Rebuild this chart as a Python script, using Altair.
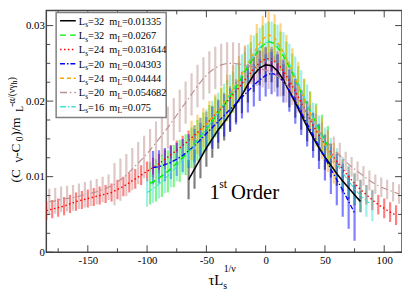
import altair as alt
import pandas as pd

# ---------------- data ----------------
x_ticks_major = [-150, -100, -50, 0, 50, 100]
x_ticks_minor = [-175, -125, -75, -25, 25, 75]
y_ticks_major = [0.0, 0.01, 0.02, 0.03]
y_ticks_minor = [0.0025, 0.005, 0.0075, 0.0125, 0.015, 0.0175, 0.0225, 0.025, 0.0275]

legend_Ls = ["32", "32", "24", "20", "24", "20", "16"]
legend_mL = ["0.01335", "0.0267", "0.031644", "0.04303", "0.04444", "0.054682", "0.075"]

black_x = [-65, -60, -55, -50, -45, -40, -35, -30, -25, -20, -15, -10, -5, 0, 5, 10, 15, 20, 25, 30,
           35, 40, 45, 50, 55, 60, 65, 70, 75, 80]
black_y = [0.0096, 0.0110, 0.0124, 0.0138, 0.0150, 0.0162, 0.0172, 0.0183, 0.0196, 0.0208, 0.0222,
           0.0235, 0.0244, 0.0248, 0.0247, 0.0240, 0.0228, 0.0213, 0.0198, 0.0182, 0.0166, 0.0152,
           0.0138, 0.0126, 0.0115, 0.0104, 0.0094, 0.0085, 0.0076, 0.0067]
black_e = [0.0026, 0.0026, 0.0026, 0.0025, 0.0025, 0.0025, 0.0024, 0.0024, 0.0024, 0.0024, 0.0024,
           0.0023, 0.0023, 0.0023, 0.0022, 0.0022, 0.0021, 0.0021, 0.0020, 0.0020, 0.0019, 0.0018,
           0.0017, 0.0017, 0.0016, 0.0016, 0.0015, 0.0015, 0.0014, 0.0014]

green_x = [-97.5, -92.5, -87.5, -82.5, -77.5, -72.5, -67.5, -62.5, -57.5, -52.5, -47.5, -42.5, -37.5,
           -32.5, -27.5, -22.5, -17.5, -12.5, -7.5, -2.5, 2.5, 7.5, 12.5, 17.5, 22.5, 27.5, 32.5, 37.5,
           42.5, 47.5, 52.5]
green_y = [0.0091, 0.0095, 0.0101, 0.0107, 0.0114, 0.0121, 0.0129, 0.0138, 0.0148, 0.0158, 0.0168,
           0.0179, 0.0190, 0.0201, 0.0212, 0.0225, 0.0239, 0.0252, 0.0264, 0.0274, 0.0279, 0.0276,
           0.0266, 0.0253, 0.0237, 0.0220, 0.0203, 0.0187, 0.0171, 0.0156, 0.0141]
green_e = [0.0028, 0.0028, 0.0028, 0.0028, 0.0028, 0.0028, 0.0027, 0.0027, 0.0027, 0.0027, 0.0027,
           0.0027, 0.0027, 0.0027, 0.0027, 0.0027, 0.0026, 0.0026, 0.0026, 0.0026, 0.0026, 0.0026,
           0.0026, 0.0026, 0.0026, 0.0026, 0.0026, 0.0026, 0.0026, 0.0026, 0.0026]

red_x = [-185, -180, -175, -170, -165, -160, -155, -150, -145, -140, -135, -130, -125, -120, -115,
         -110, -105, -100, -95, -90, -85, -80, -75, -70, -65, -60, -55, -50, -45, -40, -35, -30, -25,
         -20, -15, -10, -5, 0, 5, 10, 15, 20, 25, 30, 35, 40, 45, 50, 55, 60, 65, 70, 75, 80, 85, 90,
         95, 100, 105, 110]
red_y = [0.0055, 0.0057, 0.0059, 0.0061, 0.0064, 0.0067, 0.0069, 0.0071, 0.0073, 0.0075, 0.0077,
         0.0079, 0.0083, 0.0087, 0.0092, 0.0097, 0.0102, 0.0107, 0.0112, 0.0117, 0.0123, 0.0129,
         0.0135, 0.0141, 0.0148, 0.0155, 0.0162, 0.0170, 0.0178, 0.0186, 0.0195, 0.0204, 0.0213,
         0.0223, 0.0233, 0.0243, 0.0251, 0.0256, 0.0256, 0.0250, 0.0240, 0.0227, 0.0213, 0.0198,
         0.0183, 0.0168, 0.0155, 0.0143, 0.0131, 0.0120, 0.0110, 0.0100, 0.0091, 0.0083, 0.0076,
         0.0069, 0.0063, 0.0058, 0.0053, 0.0049]
red_e = [0.0012, 0.0012, 0.0012, 0.0012, 0.0012, 0.0012, 0.0012, 0.0012, 0.0012, 0.0012, 0.0012,
         0.0012, 0.0013, 0.0013, 0.0013, 0.0013, 0.0013, 0.0013, 0.0013, 0.0013, 0.0013, 0.0013,
         0.0013, 0.0013, 0.0013, 0.0013, 0.0016, 0.0016, 0.0016, 0.0016, 0.0016, 0.0016, 0.0016,
         0.0016, 0.0016, 0.0016, 0.0016, 0.0016, 0.0016, 0.0016, 0.0016, 0.0016, 0.0016, 0.0016,
         0.0016, 0.0016, 0.0013, 0.0013, 0.0013, 0.0013, 0.0013, 0.0013, 0.0013, 0.0013, 0.0013,
         0.0013, 0.0013, 0.0013, 0.0013, 0.0013]

blue_x = [-95, -90, -85, -80, -75, -70, -65, -60, -55, -50, -45, -40, -35, -30, -25, -20, -15, -10,
          -5, 0, 5, 10, 15, 20, 25, 30, 35, 40, 45, 50, 55, 60, 65, 70, 75]
blue_y = [0.0112, 0.0113, 0.0116, 0.0119, 0.0123, 0.0128, 0.0134, 0.0141, 0.0149, 0.0157, 0.0165,
          0.0173, 0.0181, 0.0189, 0.0197, 0.0205, 0.0213, 0.0221, 0.0228, 0.0234, 0.0237, 0.0234,
          0.0226, 0.0214, 0.0200, 0.0185, 0.0170, 0.0155, 0.0140, 0.0125, 0.0110, 0.0096, 0.0082,
          0.0067, 0.0052]
blue_e = [0.0022, 0.0022, 0.0022, 0.0022, 0.0022, 0.0022, 0.0022, 0.0022, 0.0022, 0.0022, 0.0028,
          0.0028, 0.0028, 0.0028, 0.0028, 0.0028, 0.0028, 0.0028, 0.0028, 0.0028, 0.0028, 0.0028,
          0.0028, 0.0028, 0.0030, 0.0030, 0.0030, 0.0030, 0.0030, 0.0030, 0.0033, 0.0034, 0.0035,
          0.0036, 0.0037]

orange_x = [-62.5, -57.5, -52.5, -47.5, -42.5, -37.5, -32.5, -27.5, -22.5, -17.5, -12.5, -7.5, -2.5,
            2.5, 7.5, 12.5, 17.5, 22.5, 27.5, 32.5, 37.5, 42.5, 47.5, 52.5, 57.5]
orange_y = [0.0148, 0.0156, 0.0165, 0.0174, 0.0183, 0.0193, 0.0204, 0.0216, 0.0229, 0.0243, 0.0257,
            0.0271, 0.0282, 0.0288, 0.0284, 0.0272, 0.0257, 0.0239, 0.0221, 0.0203, 0.0185, 0.0167,
            0.0150, 0.0133, 0.0118]
orange_e = [0.0026, 0.0026, 0.0026, 0.0026, 0.0026, 0.0026, 0.0031, 0.0031, 0.0031, 0.0031, 0.0031,
            0.0031, 0.0031, 0.0031, 0.0031, 0.0031, 0.0031, 0.0031, 0.0031, 0.0027, 0.0027, 0.0027,
            0.0027, 0.0027, 0.0027]

rosy_x = [-182.5, -177.5, -172.5, -167.5, -162.5, -157.5, -152.5, -147.5, -142.5, -137.5, -132.5,
          -127.5, -122.5, -117.5, -112.5, -107.5, -102.5, -97.5, -92.5, -87.5, -82.5, -77.5, -72.5,
          -67.5, -62.5, -57.5, -52.5, -47.5, -42.5, -37.5, -32.5, -27.5, -22.5, -17.5, -12.5, -7.5,
          -2.5, 2.5, 7.5, 12.5, 17.5, 22.5, 27.5, 32.5, 37.5, 42.5, 47.5, 52.5, 57.5, 62.5, 67.5,
          72.5, 77.5, 82.5, 87.5, 92.5, 97.5, 102.5, 107.5, 112.5]
rosy_y = [0.0067, 0.0068, 0.0070, 0.0071, 0.0072, 0.0074, 0.0076, 0.0078, 0.0080, 0.0083, 0.0086,
          0.0090, 0.0096, 0.0102, 0.0110, 0.0118, 0.0126, 0.0135, 0.0145, 0.0155, 0.0165, 0.0176,
          0.0187, 0.0198, 0.0209, 0.0220, 0.0230, 0.0238, 0.0244, 0.0248, 0.0250, 0.0250, 0.0249,
          0.0248, 0.0246, 0.0244, 0.0242, 0.0240, 0.0236, 0.0230, 0.0222, 0.0212, 0.0202, 0.0190,
          0.0178, 0.0166, 0.0155, 0.0145, 0.0136, 0.0128, 0.0120, 0.0113, 0.0107, 0.0101, 0.0095,
          0.0090, 0.0086, 0.0083, 0.0080, 0.0077]
rosy_e = [0.0017, 0.0017, 0.0017, 0.0017, 0.0017, 0.0017, 0.0017, 0.0017, 0.0017, 0.0017, 0.0017,
          0.0028, 0.0028, 0.0028, 0.0028, 0.0028, 0.0028, 0.0028, 0.0028, 0.0028, 0.0028, 0.0028,
          0.0028, 0.0028, 0.0028, 0.0028, 0.0028, 0.0028, 0.0028, 0.0028, 0.0028, 0.0028, 0.0028,
          0.0024, 0.0024, 0.0024, 0.0024, 0.0024, 0.0024, 0.0024, 0.0024, 0.0017, 0.0017, 0.0017,
          0.0017, 0.0017, 0.0017, 0.0017, 0.0017, 0.0017, 0.0013, 0.0013, 0.0013, 0.0013, 0.0013,
          0.0013, 0.0013, 0.0013, 0.0013, 0.0013]

cyan_x = [-100, -95, -90, -85, -80, -75, -70, -65, -60, -55, -50, -45, -40, -35, -30, -25, -20, -15,
          -10, -5, 0, 5, 10, 15, 20, 25, 30, 35, 40, 45, 50, 55, 60, 65, 70, 75, 80, 85, 90]
cyan_y = [0.0079, 0.0084, 0.0090, 0.0097, 0.0105, 0.0113, 0.0122, 0.0132, 0.0142, 0.0152, 0.0163,
          0.0174, 0.0185, 0.0197, 0.0209, 0.0222, 0.0236, 0.0249, 0.0261, 0.0271, 0.0277, 0.0279,
          0.0275, 0.0265, 0.0250, 0.0233, 0.0215, 0.0196, 0.0177, 0.0160, 0.0144, 0.0130, 0.0117,
          0.0105, 0.0094, 0.0084, 0.0075, 0.0068, 0.0062]
cyan_e = [0.0019, 0.0019, 0.0019, 0.0019, 0.0019, 0.0019, 0.0019, 0.0019, 0.0026, 0.0026, 0.0026,
          0.0026, 0.0026, 0.0026, 0.0026, 0.0026, 0.0026, 0.0026, 0.0026, 0.0026, 0.0026, 0.0026,
          0.0026, 0.0026, 0.0026, 0.0026, 0.0026, 0.0026, 0.0021, 0.0021, 0.0021, 0.0021, 0.0021,
          0.0021, 0.0021, 0.0021, 0.0021, 0.0021, 0.0021]

# ---------------- styles ----------------
names = ["a_black", "b_green", "c_red", "d_blue", "e_orange", "f_rosy", "g_cyan"]
colors = ["#000000", "#00ee00", "#ff0000", "#0000ff", "#ffa500", "#bc8f8f", "#40e0d0"]
dashes = [[1, 0], [6, 4], [1.5, 2.5], [5, 2, 1.5, 2], [4, 3], [7, 3, 1.5, 3], [6, 2, 1.5, 2]]
widths = [1.6, 1.1, 1.3, 1.1, 1.1, 1.1, 1.1]
all_data = [(black_x, black_y, black_e), (green_x, green_y, green_e), (red_x, red_y, red_e),
            (blue_x, blue_y, blue_e), (orange_x, orange_y, orange_e), (rosy_x, rosy_y, rosy_e),
            (cyan_x, cyan_y, cyan_e)]

rows = []
for n, (xs, ys, es) in zip(names, all_data):
    for xv, yv, ev in zip(xs, ys, es):
        rows.append({"s": n, "x": xv, "y": yv, "lo": yv - ev, "hi": yv + ev})
df = pd.DataFrame(rows)

W, H = 362, 246
FONT = "Liberation Serif"
AX = "#444444"

xscale = alt.Scale(domain=[-185, 115], nice=False, zero=False)
yscale = alt.Scale(domain=[0, 0.032], nice=False, zero=False)
xaxis = alt.Axis(values=x_ticks_major, ticks=False, domain=False, grid=False, title=None,
                 labelFont=FONT, labelFontSize=11, labelColor="#000", labelPadding=3,
                 labelExpr="datum.value + ''")
yaxis = alt.Axis(values=y_ticks_major, ticks=False, domain=False, grid=False, title=None,
                 labelFont=FONT, labelFontSize=11, labelColor="#000", labelPadding=2,
                 labelExpr="datum.value == 0 ? '0' : format(datum.value, '.2f')")


def X(f):
    return alt.X(f, type="quantitative", scale=xscale, axis=xaxis)


def Y(f):
    return alt.Y(f, type="quantitative", scale=yscale, axis=yaxis)


cscale = alt.Scale(domain=names, range=colors)
dscale = alt.Scale(domain=names, range=dashes)
wscale = alt.Scale(domain=names, range=widths)

bars = alt.Chart(df).mark_rule(strokeWidth=2.2, opacity=0.5, clip=True).encode(
    x=X("x"), y=Y("lo"), y2="hi",
    color=alt.Color("s:N", scale=cscale, legend=None))

lines = alt.Chart(df).mark_line(clip=True).encode(
    x=X("x"), y=Y("y"),
    color=alt.Color("s:N", scale=cscale, legend=None),
    strokeDash=alt.StrokeDash("s:N", scale=dscale, legend=None),
    strokeWidth=alt.StrokeWidth("s:N", scale=wscale, legend=None),
    order="x:Q")

layers = [bars, lines]

# inward ticks on all four sides
for vals, ln in [(x_ticks_major, 7), (x_ticks_minor, 4)]:
    tdf = pd.DataFrame({"x": vals})
    layers.append(alt.Chart(tdf).mark_rule(color=AX, strokeWidth=1).encode(
        x=X("x"), y=alt.value(H), y2=alt.value(H - ln)))
    layers.append(alt.Chart(tdf).mark_rule(color=AX, strokeWidth=1).encode(
        x=X("x"), y=alt.value(0), y2=alt.value(ln)))
for vals, ln in [(y_ticks_major, 7), (y_ticks_minor, 4)]:
    tdf = pd.DataFrame({"y": vals})
    layers.append(alt.Chart(tdf).mark_rule(color=AX, strokeWidth=1).encode(
        y=Y("y"), x=alt.value(0), x2=alt.value(ln)))
    layers.append(alt.Chart(tdf).mark_rule(color=AX, strokeWidth=1).encode(
        y=Y("y"), x=alt.value(W), x2=alt.value(W - ln)))

one = pd.DataFrame({"d": [0]})


def txt(t, x, y, size, angle=0):
    return alt.Chart(one).mark_text(text=t, font=FONT, fontSize=size, align="left",
                                    baseline="alphabetic", angle=angle, color="#000").encode(
        x=alt.value(x), y=alt.value(y))


# legend box
layers.append(alt.Chart(one).mark_rect(fill="white", stroke="#808080", strokeWidth=1.5).encode(
    x=alt.value(10), x2=alt.value(122), y=alt.value(2), y2=alt.value(109)))

for i in range(7):
    ry = 10.5 + 14.6 * i
    layers.append(alt.Chart(one).mark_rule(color=colors[i], strokeDash=dashes[i],
                                           strokeWidth=1.5).encode(
        x=alt.value(14), x2=alt.value(30), y=alt.value(ry)))
    layers.append(txt("L", 33, ry + 4, 10.5))
    layers.append(txt("s", 39.5, ry + 6.5, 7.5))
    layers.append(txt("=" + legend_Ls[i], 42.5, ry + 4, 10.5))
    layers.append(txt("m", 64, ry + 4, 10.5))
    layers.append(txt("L", 72.4, ry + 6.5, 7.5))
    layers.append(txt("=" + legend_mL[i], 77, ry + 4, 10.5))

# "1st Order" annotation
layers.append(txt("1", 166, 192, 21))
layers.append(txt("st", 176, 181, 12))
layers.append(txt("Order", 188, 192, 21))

# x-axis title: tau L_s^{1/nu}
layers.append(txt("τL", 165, 279, 15))
layers.append(txt("s", 180, 283, 10))
layers.append(txt("1/ν", 180.5, 266, 10))

# y-axis title: (C_V-C_0)/m_L^{-alpha/(nu gamma_h)}
A = 270
layers.append(txt("(C", -27, 175, 13.5, A))
layers.append(txt("V", -24, 155, 9.5, A))
layers.append(txt("-C", -27, 149, 13.5, A))
layers.append(txt("0", -24, 133, 9.5, A))
layers.append(txt(")/m", -27, 127.5, 13.5, A))
layers.append(txt("L", -24, 103, 9.5, A))
layers.append(txt("-α/(νγ", -32, 98, 9.5, A))
layers.append(txt("h", -29.5, 75, 7.5, A))
layers.append(txt(")", -32, 71, 9.5, A))

chart = alt.layer(*layers).properties(
    width=W, height=H,
    padding={"left": 39, "top": 0, "right": 0, "bottom": 37},
    autosize=alt.AutoSizeParams(type="none"),
    background="white",
).configure_view(stroke=AX, strokeWidth=1.5)

chart.save("out.html", embed_options={"renderer": "svg", "actions": False})
